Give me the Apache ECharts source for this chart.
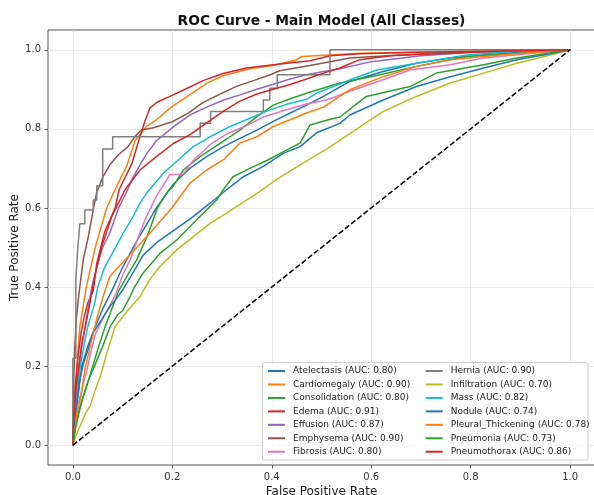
<!DOCTYPE html>
<html><head><meta charset="utf-8">
<script src="https://cdn.jsdelivr.net/npm/echarts@6/dist/echarts.min.js"></script>
<style>html,body{margin:0;padding:0;background:#fff}#c{width:594px;height:495px}</style>
</head><body><div id="c"></div>
<script>
// ---- data ----
const classNames = ['Atelectasis','Cardiomegaly','Consolidation','Edema','Effusion','Emphysema','Fibrosis',
  'Hernia','Infiltration','Mass','Nodule','Pleural_Thickening','Pneumonia','Pneumothorax'];
const aucValues = [0.80,0.90,0.80,0.91,0.87,0.90,0.80,0.90,0.70,0.82,0.74,0.78,0.73,0.86];
const tickValues = [0,0.2,0.4,0.6,0.8,1.0];
const diagonal = [[0,0],[1,1]];

const atelectasis = [[0,0],[0.003,0.05],[0.008,0.1],[0.013,0.15],[0.018,0.2],[0.03,0.25],[0.045,0.3],[0.062,0.35],[0.082,0.4],[0.1,0.45],[0.13,0.52],[0.168,0.6],[0.202,0.66],[0.235,0.7],[0.269,0.73],[0.303,0.755],[0.336,0.776],[0.37,0.797],[0.403,0.819],[0.437,0.84],[0.47,0.86],[0.504,0.882],[0.557,0.92],[0.624,0.945],[0.691,0.966],[0.759,0.979],[0.826,0.987],[0.9,0.994],[1,1]];
const cardiomegaly = [[0,0],[0.002,0.1],[0.008,0.2],[0.014,0.3],[0.027,0.4],[0.045,0.5],[0.068,0.6],[0.09,0.66],[0.108,0.705],[0.125,0.77],[0.148,0.806],[0.168,0.823],[0.2,0.857],[0.235,0.886],[0.269,0.915],[0.303,0.935],[0.356,0.952],[0.403,0.96],[0.45,0.975],[0.46,0.983],[0.577,0.991],[0.8,0.996],[1,1]];
const consolidation = [[0,0],[0.005,0.05],[0.015,0.1],[0.028,0.15],[0.04,0.2],[0.052,0.25],[0.065,0.3],[0.08,0.35],[0.092,0.39],[0.11,0.43],[0.128,0.468],[0.15,0.53],[0.17,0.6],[0.188,0.637],[0.202,0.655],[0.222,0.696],[0.256,0.73],[0.28,0.75],[0.31,0.775],[0.336,0.797],[0.37,0.831],[0.403,0.86],[0.437,0.876],[0.47,0.89],[0.537,0.916],[0.611,0.935],[0.691,0.958],[0.792,0.983],[0.893,0.991],[1,1]];
const edema = [[0,0],[0.002,0.08],[0.005,0.15],[0.01,0.22],[0.016,0.28],[0.022,0.32],[0.03,0.36],[0.041,0.39],[0.048,0.46],[0.064,0.54],[0.085,0.6],[0.093,0.646],[0.118,0.71],[0.135,0.78],[0.145,0.82],[0.155,0.853],[0.17,0.868],[0.195,0.882],[0.229,0.902],[0.262,0.922],[0.302,0.94],[0.349,0.954],[0.403,0.962],[0.477,0.972],[0.517,0.985],[0.579,0.99],[0.69,0.994],[1,1]];
const effusion = [[0,0],[0.003,0.08],[0.007,0.14],[0.013,0.2],[0.018,0.25],[0.025,0.3],[0.031,0.35],[0.038,0.4],[0.05,0.46],[0.06,0.5],[0.074,0.536],[0.092,0.6],[0.108,0.64],[0.12,0.675],[0.135,0.709],[0.15,0.74],[0.168,0.77],[0.202,0.805],[0.235,0.835],[0.269,0.855],[0.303,0.873],[0.336,0.886],[0.37,0.9],[0.403,0.913],[0.437,0.926],[0.47,0.937],[0.504,0.945],[0.537,0.952],[0.6,0.97],[0.7,0.985],[0.8,0.993],[1,1]];
const emphysema = [[0,0],[0.001,0.1],[0.002,0.18],[0.004,0.25],[0.007,0.32],[0.012,0.38],[0.016,0.42],[0.021,0.47],[0.031,0.527],[0.041,0.595],[0.048,0.64],[0.061,0.68],[0.075,0.71],[0.091,0.734],[0.111,0.755],[0.125,0.781],[0.138,0.797],[0.162,0.803],[0.2,0.818],[0.232,0.84],[0.262,0.867],[0.296,0.888],[0.33,0.908],[0.363,0.922],[0.397,0.937],[0.416,0.947],[0.477,0.96],[0.557,0.979],[0.658,0.987],[0.759,0.993],[1,1]];
const fibrosis = [[0,0],[0.004,0.05],[0.01,0.1],[0.02,0.15],[0.03,0.2],[0.037,0.24],[0.045,0.28],[0.06,0.32],[0.075,0.355],[0.087,0.384],[0.1,0.43],[0.115,0.468],[0.13,0.52],[0.145,0.57],[0.168,0.63],[0.195,0.684],[0.222,0.686],[0.242,0.72],[0.276,0.76],[0.309,0.787],[0.349,0.808],[0.383,0.83],[0.423,0.846],[0.47,0.863],[0.51,0.873],[0.557,0.895],[0.624,0.924],[0.678,0.949],[0.759,0.962],[0.826,0.979],[0.926,0.991],[1,1]];
const hernia = [[0,0],[0,0.22],[0.006,0.22],[0.006,0.42],[0.01,0.42],[0.01,0.5],[0.014,0.5],[0.014,0.56],[0.024,0.56],[0.024,0.595],[0.041,0.595],[0.041,0.62],[0.048,0.62],[0.048,0.656],[0.06,0.656],[0.06,0.749],[0.08,0.749],[0.08,0.78],[0.256,0.78],[0.256,0.814],[0.277,0.814],[0.277,0.844],[0.383,0.844],[0.383,0.873],[0.396,0.873],[0.396,0.903],[0.411,0.903],[0.411,0.937],[0.517,0.937],[0.517,1],[1,1]];
const infiltration = [[0,0],[0.008,0.03],[0.015,0.05],[0.025,0.08],[0.035,0.1],[0.045,0.14],[0.055,0.173],[0.07,0.24],[0.085,0.3],[0.11,0.34],[0.135,0.376],[0.155,0.42],[0.175,0.452],[0.209,0.494],[0.242,0.527],[0.276,0.561],[0.309,0.587],[0.343,0.615],[0.376,0.642],[0.41,0.672],[0.443,0.698],[0.477,0.724],[0.51,0.749],[0.557,0.788],[0.624,0.844],[0.691,0.882],[0.759,0.916],[0.826,0.941],[0.893,0.966],[0.96,0.987],[1,1]];
const mass = [[0,0],[0.003,0.06],[0.008,0.12],[0.015,0.2],[0.022,0.25],[0.03,0.3],[0.044,0.36],[0.05,0.4],[0.064,0.45],[0.09,0.51],[0.101,0.536],[0.121,0.578],[0.135,0.612],[0.148,0.637],[0.182,0.688],[0.209,0.718],[0.242,0.755],[0.276,0.78],[0.316,0.806],[0.356,0.827],[0.396,0.848],[0.43,0.862],[0.47,0.875],[0.49,0.89],[0.557,0.924],[0.611,0.949],[0.691,0.966],[0.792,0.987],[0.893,0.996],[1,1]];
const nodule = [[0,0],[0.004,0.06],[0.008,0.11],[0.013,0.16],[0.02,0.2],[0.03,0.24],[0.04,0.283],[0.057,0.316],[0.074,0.35],[0.084,0.365],[0.1,0.392],[0.124,0.443],[0.141,0.48],[0.171,0.515],[0.211,0.55],[0.242,0.578],[0.276,0.612],[0.309,0.646],[0.343,0.679],[0.383,0.705],[0.423,0.738],[0.457,0.755],[0.49,0.79],[0.537,0.814],[0.557,0.835],[0.624,0.873],[0.691,0.907],[0.759,0.932],[0.826,0.954],[0.893,0.975],[0.96,0.99],[1,1]];
const pleuralThickening = [[0,0],[0.008,0.08],[0.016,0.122],[0.024,0.19],[0.035,0.25],[0.049,0.325],[0.062,0.38],[0.074,0.426],[0.095,0.455],[0.121,0.49],[0.155,0.536],[0.199,0.6],[0.235,0.662],[0.269,0.696],[0.303,0.722],[0.336,0.764],[0.37,0.78],[0.403,0.806],[0.437,0.823],[0.47,0.84],[0.504,0.855],[0.557,0.899],[0.624,0.932],[0.691,0.958],[0.759,0.975],[0.859,0.987],[1,1]];
const pneumonia = [[0,0],[0.005,0.04],[0.012,0.08],[0.02,0.12],[0.03,0.16],[0.045,0.205],[0.06,0.25],[0.075,0.3],[0.09,0.33],[0.1,0.34],[0.115,0.376],[0.124,0.4],[0.141,0.435],[0.175,0.485],[0.209,0.519],[0.249,0.57],[0.289,0.62],[0.302,0.645],[0.322,0.679],[0.356,0.7],[0.39,0.72],[0.423,0.742],[0.457,0.764],[0.477,0.81],[0.51,0.822],[0.537,0.83],[0.59,0.882],[0.678,0.907],[0.731,0.941],[0.826,0.962],[0.893,0.979],[1,1]];
const pneumothorax = [[0,0],[0.002,0.07],[0.006,0.14],[0.012,0.2],[0.018,0.26],[0.025,0.3],[0.033,0.35],[0.04,0.4],[0.044,0.426],[0.058,0.502],[0.078,0.578],[0.105,0.646],[0.135,0.696],[0.168,0.73],[0.202,0.763],[0.235,0.785],[0.269,0.815],[0.303,0.845],[0.336,0.87],[0.37,0.888],[0.403,0.9],[0.437,0.912],[0.47,0.926],[0.504,0.941],[0.537,0.954],[0.577,0.975],[0.638,0.985],[0.725,0.99],[0.85,0.996],[1,1]];

const curves = [atelectasis,cardiomegaly,consolidation,edema,effusion,emphysema,fibrosis,
  hernia,infiltration,mass,nodule,pleuralThickening,pneumonia,pneumothorax];

// ---- styles ----
const COLORS = ['#1f77b4','#ff7f0e','#2ca02c','#d62728','#9467bd','#8c564b','#e377c2',
  '#7f7f7f','#bcbd22','#17becf','#1f77b4','#ff7f0e','#2ca02c','#d62728'];
const FONT = 'DejaVu Sans';

const labels = classNames.map((n,i)=> n + ' (AUC: ' + aucValues[i].toFixed(2) + ')');

const series = curves.map((d,i)=>({
  type:'line', name: labels[i], data: d, symbol:'none', showSymbol:false,
  color: COLORS[i], lineStyle:{color: COLORS[i], width:1.5}, animation:false, z:2
}));
series.push({type:'line', name:'Random', data: diagonal, symbol:'none', animation:false, z:3,
  lineStyle:{color:'#000', width:1.5, type:[5.5,2.4]}});

const axisCommon = {
  type:'value', min:-0.05, max:1.05,
  axisLine:{show:false, onZero:false},
  axisTick:{show:true, length:3.5, customValues: tickValues, lineStyle:{color:'#333', width:0.8}},
  axisLabel:{customValues: tickValues, formatter: v=>v.toFixed(1), margin:7, fontSize:10, color:'#333', fontFamily:FONT},
  splitLine:{show:true, lineStyle:{color:'#e4e4e4', width:0.8}},
  nameLocation:'middle', nameMoveOverlap:false, nameTextStyle:{fontSize:12, color:'#222', fontFamily:FONT}
};

const chart = echarts.init(document.getElementById('c'), null, {renderer:'canvas'});
chart.setOption({
  animation:false,
  backgroundColor:'#fff',
  title:{text:'ROC Curve - Main Model (All Classes)', left:321.5, top:14.5, textAlign:'center', padding:0,
    textStyle:{fontSize:13.8, fontWeight:'bold', color:'#111', fontFamily:FONT}},
  grid:{left:48, top:30, width:547, height:435, show:true, borderColor:'#555', borderWidth:1,
    backgroundColor:'transparent', containLabel:false, outerBoundsMode:'none'},
  xAxis: Object.assign({}, axisCommon, {name:'False Positive Rate', nameGap:21}),
  yAxis: Object.assign({}, axisCommon, {name:'True Positive Rate', nameGap:27, nameRotate:90}),
  legend:[0,1].map(k=>({
    data: labels.slice(k*7, k*7+7), orient:'vertical', left: k===0 ? 268 : 425.7, top:364.3,
    itemWidth:17, itemHeight:2, itemGap:0, icon:'rect', padding:0, selectedMode:false, z:20,
    textStyle:{fontSize:9, fontFamily:FONT, color:'#222', lineHeight:13.45, padding:[0,0,0,3]}
  })),
  graphic:[{type:'rect', z:15, shape:{x:262.5, y:362.5, width:325.5, height:97.5, r:2},
    style:{fill:'rgba(255,255,255,0.8)', stroke:'#cfcfcf', lineWidth:1}}],
  series: series
});
</script></body></html>
